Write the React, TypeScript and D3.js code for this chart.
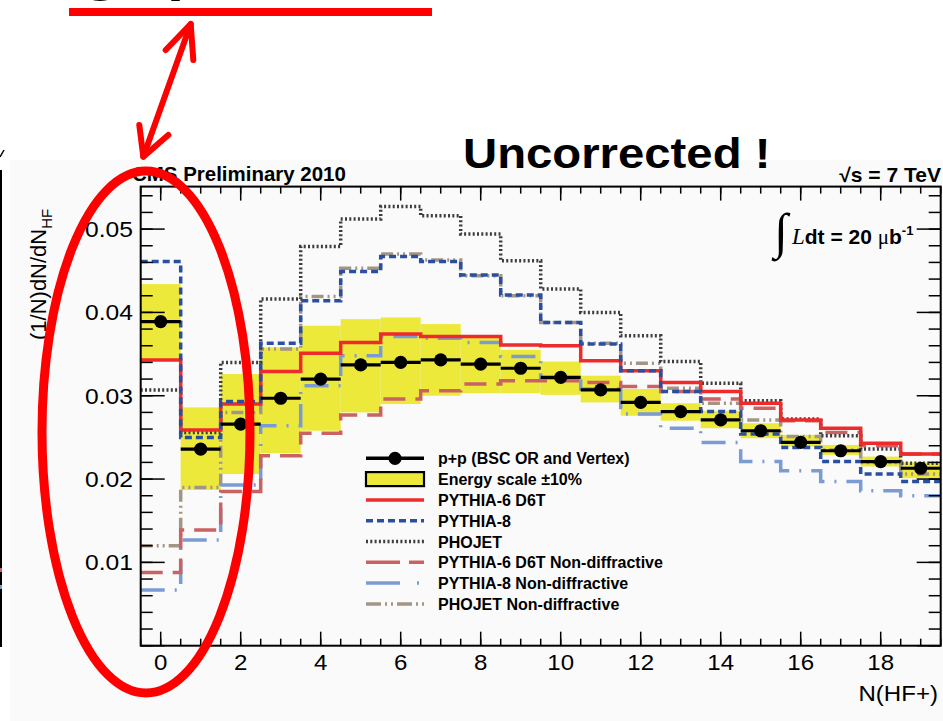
import React from "react";
import * as d3 from "d3";

// Bin centres of N(HF+)
const nHF = [0, 1, 2, 3, 4, 5, 6, 7, 8, 9, 10, 11, 12, 13, 14, 15, 16, 17, 18, 19];

// Measured distribution p+p (BSC OR and Vertex)
const dataVals = [0.0389, 0.0236, 0.0266, 0.0297, 0.032, 0.0337, 0.034, 0.0343, 0.0338, 0.0333, 0.0322, 0.0307, 0.0292, 0.0281, 0.0271, 0.0258, 0.0244, 0.0234, 0.0221, 0.0213];
// Energy scale +-10% band
const bandHigh = [0.0434, 0.0286, 0.0326, 0.0358, 0.0384, 0.0392, 0.0394, 0.0386, 0.0372, 0.0355, 0.0341, 0.0324, 0.0308, 0.0291, 0.0282, 0.0267, 0.0253, 0.0241, 0.0227, 0.022];
const bandLow = [0.0344, 0.0187, 0.0206, 0.0231, 0.0258, 0.028, 0.029, 0.03, 0.0303, 0.0303, 0.0301, 0.0292, 0.0276, 0.027, 0.0261, 0.0249, 0.0239, 0.0229, 0.0215, 0.0201];

// Monte Carlo predictions
const pythia6 = [0.0343, 0.0259, 0.029, 0.0329, 0.0351, 0.0364, 0.0374, 0.0371, 0.0371, 0.0361, 0.036, 0.0342, 0.033, 0.0316, 0.0305, 0.0291, 0.0271, 0.0261, 0.0243, 0.023];
const pythia8 = [0.0461, 0.025, 0.0293, 0.0363, 0.0414, 0.0449, 0.0467, 0.0461, 0.0445, 0.0421, 0.0388, 0.0362, 0.033, 0.0305, 0.0281, 0.0254, 0.0238, 0.0221, 0.0206, 0.0197];
const phojet = [0.0307, 0.0256, 0.034, 0.0416, 0.0479, 0.0512, 0.0527, 0.0516, 0.0494, 0.0462, 0.0428, 0.04, 0.0372, 0.0341, 0.0315, 0.0294, 0.0272, 0.0252, 0.0236, 0.0219];
const pythia6ND = [0.0088, 0.0139, 0.0185, 0.0228, 0.0255, 0.0277, 0.0296, 0.0306, 0.0314, 0.0318, 0.0318, 0.0316, 0.0311, 0.0305, 0.0296, 0.0285, 0.027, 0.0256, 0.024, 0.023];
const pythia8ND = [0.0067, 0.0127, 0.0193, 0.0264, 0.0312, 0.0348, 0.0371, 0.0369, 0.0364, 0.0347, 0.0321, 0.0308, 0.0278, 0.0261, 0.0244, 0.0221, 0.021, 0.0197, 0.0186, 0.018];
const phojetND = [0.012, 0.019, 0.028, 0.0356, 0.0419, 0.0453, 0.047, 0.0463, 0.0444, 0.042, 0.0388, 0.0363, 0.0339, 0.0309, 0.0291, 0.0271, 0.0251, 0.0235, 0.022, 0.0206];

// Axis tick labels
const xTickLabels = [0, 2, 4, 6, 8, 10, 12, 14, 16, 18];
const yTickLabels = [0.01, 0.02, 0.03, 0.04, 0.05];

const legendLabels = [
  "p+p (BSC OR and Vertex)",
  "Energy scale \u00b110%",
  "PYTHIA-6 D6T",
  "PYTHIA-8",
  "PHOJET",
  "PYTHIA-6 D6T Non-diffractive",
  "PYTHIA-8 Non-diffractive",
  "PHOJET Non-diffractive",
];

const W = 943;
const H = 721;
const FONT = "'Liberation Sans', Arial, Helvetica, sans-serif";

const frame = { left: 140.7, right: 940.7, top: 186.6, bottom: 645.7 };

const x = d3.scaleLinear().domain([-0.5, 19.5]).range([frame.left, frame.right]);
const y = d3.scaleLinear().domain([0, 0.0551]).range([frame.bottom, frame.top]);

type Series = { values: number[]; color: string; dash?: string };

const mcSeries: Series[] = [
  { values: phojetND, color: "#a39585", dash: "12,4,2,4,2,4" },
  { values: pythia8ND, color: "#7b9bd3", dash: "24,10,2,10" },
  { values: pythia6ND, color: "#c96262", dash: "22,10" },
  { values: phojet, color: "#3c3c3c", dash: "2,2.3" },
  { values: pythia6, color: "#ee2a2a" },
  { values: pythia8, color: "#2a4fa0", dash: "7,4" },
];

const legendStyles: Series[] = [
  { values: [], color: "#000" },
  { values: [], color: "#000" },
  { values: [], color: "#ee2a2a" },
  { values: [], color: "#2a4fa0", dash: "7,4" },
  { values: [], color: "#3c3c3c", dash: "2,2.3" },
  { values: [], color: "#c96262", dash: "34,9" },
  { values: [], color: "#7b9bd3", dash: "34,17,2,30" },
  { values: [], color: "#a39585", dash: "15,4,2,4,2,4" },
];

const stepLine = d3
  .line<[number, number]>()
  .x((d) => x(d[0]))
  .y((d) => y(d[1]))
  .curve(d3.curveStepAfter);

function stepPoints(values: number[]): [number, number][] {
  const pts: [number, number][] = nHF.map((n, i) => [n - 0.5, values[i]]);
  pts.push([nHF[nHF.length - 1] + 0.5, values[values.length - 1]]);
  return pts;
}

const xMajor = xTickLabels;
const xMinor = d3.range(-0.5, 19.51, 0.5);
const yMajor = [0, ...yTickLabels];
const yMinor = d3.range(0, 0.0551, 0.002);

export default function App() {
  const legendX0 = 366;
  const legendX1 = 424;
  const legendTextX = 438;
  const legendY0 = 458.3;
  const legendStep = 20.8;

  return (
    <svg
      width={W}
      height={H}
      viewBox={`0 0 ${W} ${H}`}
      style={{ position: "absolute", left: 0, top: 0, display: "block", background: "#fff" }}
    >
      <rect x={0} y={0} width={W} height={H} fill="#ffffff" />
      <rect x={10} y={160} width={W - 10} height={H - 160} fill="#fafafa" />

      {/* slide heading (mostly above the visible area) with red underline */}
      <g transform="translate(82,-11.5) scale(1.1,1)">
        <text x={0} y={0} fontFamily={FONT} fontWeight="bold" fontSize={56} letterSpacing={6} fill="#000">
          gap
        </text>
      </g>
      <rect x={69} y={8} width={363} height={8} fill="#ff0000" />

      {/* edge of neighbouring panel */}
      <line x1={1} y1={170} x2={1} y2={647} stroke="#000" strokeWidth={2} />
      <line x1={0} y1={157} x2={4} y2={150} stroke="#000" strokeWidth={1.5} />
      <rect x={0} y={568} width={2} height={4} fill="#c96262" />
      <rect x={0} y={585} width={2} height={4} fill="#7b9bd3" />

      {/* energy-scale band */}
      {nHF.map((n, i) => (
        <rect
          key={`band-${n}`}
          x={x(n - 0.5)}
          y={y(bandHigh[i])}
          width={x(n + 0.5) - x(n - 0.5)}
          height={y(bandLow[i]) - y(bandHigh[i])}
          fill="#ece93b"
        />
      ))}

      {/* MC histograms */}
      {mcSeries.map((s, k) => (
        <path
          key={`mc-${k}`}
          d={stepLine(stepPoints(s.values)) || ""}
          fill="none"
          stroke={s.color}
          strokeWidth={3.5}
          strokeDasharray={s.dash}
        />
      ))}

      {/* data points */}
      {nHF.map((n, i) => (
        <g key={`pt-${n}`}>
          <line x1={x(n - 0.5)} x2={x(n + 0.5)} y1={y(dataVals[i])} y2={y(dataVals[i])} stroke="#000" strokeWidth={3.2} />
          <circle cx={x(n)} cy={y(dataVals[i])} r={6.6} fill="#000" />
        </g>
      ))}

      {/* frame */}
      <rect
        x={frame.left}
        y={frame.top}
        width={frame.right - frame.left}
        height={frame.bottom - frame.top}
        fill="none"
        stroke="#000"
        strokeWidth={2}
      />

      {/* x ticks (bottom and top) */}
      {xMinor.map((v) => (
        <g key={`xm-${v}`}>
          <line x1={x(v)} x2={x(v)} y1={frame.bottom} y2={frame.bottom - 7} stroke="#000" strokeWidth={1.5} />
          <line x1={x(v)} x2={x(v)} y1={frame.top} y2={frame.top + 7} stroke="#000" strokeWidth={1.5} />
        </g>
      ))}
      {xMajor.map((v) => (
        <g key={`xM-${v}`}>
          <line x1={x(v)} x2={x(v)} y1={frame.bottom} y2={frame.bottom - 14} stroke="#000" strokeWidth={1.5} />
          <line x1={x(v)} x2={x(v)} y1={frame.top} y2={frame.top + 14} stroke="#000" strokeWidth={1.5} />
          <g transform={`translate(${x(v)},${670}) scale(1.12,1)`}>
            <text x={0} y={0} textAnchor="middle" fontFamily={FONT} fontSize={21.5} fill="#000">
              {v}
            </text>
          </g>
        </g>
      ))}

      {/* y ticks (left and right) */}
      {yMinor.map((v) => (
        <g key={`ym-${v}`}>
          <line x1={frame.left} x2={frame.left + 12} y1={y(v)} y2={y(v)} stroke="#000" strokeWidth={1.5} />
          <line x1={frame.right} x2={frame.right - 12} y1={y(v)} y2={y(v)} stroke="#000" strokeWidth={1.5} />
        </g>
      ))}
      {yMajor.map((v) => (
        <g key={`yM-${v}`}>
          <line x1={frame.left} x2={frame.left + 24} y1={y(v)} y2={y(v)} stroke="#000" strokeWidth={1.5} />
          <line x1={frame.right} x2={frame.right - 24} y1={y(v)} y2={y(v)} stroke="#000" strokeWidth={1.5} />
        </g>
      ))}
      {yTickLabels.map((v) => (
        <g key={`yl-${v}`} transform={`translate(${133},${y(v) + 8}) scale(1.12,1)`}>
          <text x={0} y={0} textAnchor="end" fontFamily={FONT} fontSize={22} fill="#000">
            {v.toFixed(2)}
          </text>
        </g>
      ))}

      {/* axis titles */}
      <g transform="translate(46,340) rotate(-90)">
        <text x={0} y={0} fontFamily={FONT} fontSize={22} fill="#000">
          (1/N)dN/dN
          <tspan fontSize={15} dy={6}>HF</tspan>
        </text>
      </g>
      <g transform="translate(938,701) scale(1.12,1)">
        <text x={0} y={0} textAnchor="end" fontFamily={FONT} fontSize={21.5} fill="#000">
          N(HF+)
        </text>
      </g>

      {/* plot labels */}
      <g transform="translate(132,181) scale(1.05,1)">
        <text x={0} y={0} fontFamily={FONT} fontWeight="bold" fontSize={19.5} fill="#000">
          CMS Preliminary 2010
        </text>
      </g>
      <g transform="translate(941,182) scale(1.08,1)">
        <text x={0} y={0} textAnchor="end" fontFamily={FONT} fontWeight="bold" fontSize={19.5} fill="#000">
          {"\u221As = 7 TeV"}
        </text>
      </g>
      <text x={774} y={248} fontFamily="'Liberation Serif', 'DejaVu Serif', serif" fontSize={50} fill="#000">
        {"\u222B"}
      </text>
      <text x={792} y={244} fontFamily={FONT} fontSize={21} fill="#000">
        <tspan fontFamily="'Liberation Serif', serif" fontStyle="italic" fontSize={23}>L</tspan>
        <tspan fontWeight="bold">dt = 20 </tspan>
        <tspan fontFamily="'Liberation Serif', serif">{"\u03BC"}</tspan>
        <tspan fontWeight="bold">b</tspan>
        <tspan fontWeight="bold" fontSize={13} dy={-9}>-1</tspan>
      </text>

      {/* legend */}
      {legendLabels.map((label, i) => {
        const cy = legendY0 + i * legendStep;
        const st = legendStyles[i];
        let sym: React.ReactNode;
        if (i === 0) {
          sym = (
            <g>
              <line x1={legendX0} x2={legendX1} y1={cy} y2={cy} stroke="#000" strokeWidth={3.5} />
              <circle cx={(legendX0 + legendX1) / 2} cy={cy} r={6.6} fill="#000" />
            </g>
          );
        } else if (i === 1) {
          sym = (
            <rect x={legendX0} y={cy - 7} width={legendX1 - legendX0} height={14} fill="#ece93b" stroke="#000" strokeWidth={2.2} />
          );
        } else {
          sym = (
            <line x1={legendX0} x2={legendX1} y1={cy} y2={cy} stroke={st.color} strokeWidth={3.5} strokeDasharray={st.dash} />
          );
        }
        return (
          <g key={`lg-${i}`}>
            {sym}
            <text x={legendTextX} y={cy + 6} fontFamily={FONT} fontWeight="bold" fontSize={16} fill="#000">
              {label}
            </text>
          </g>
        );
      })}

      {/* annotation */}
      <g transform="translate(463,168) scale(1.1,1)">
        <text x={0} y={0} fontFamily={FONT} fontWeight="bold" fontSize={43} fill="#000">
          Uncorrected !
        </text>
      </g>
      <ellipse cx={146} cy={432} rx={104} ry={261} fill="none" stroke="#ff0000" strokeWidth={9} />
      <g stroke="#ff0000" strokeWidth={6} strokeLinecap="round" strokeLinejoin="round" fill="none">
        <line x1={190.7} y1={24} x2={143.3} y2={156.7} />
        <polyline points="165.7,50 190.7,24 193.3,60" />
        <polyline points="139.3,125 143.3,156.7 168.3,135" />
      </g>
    </svg>
  );
}
